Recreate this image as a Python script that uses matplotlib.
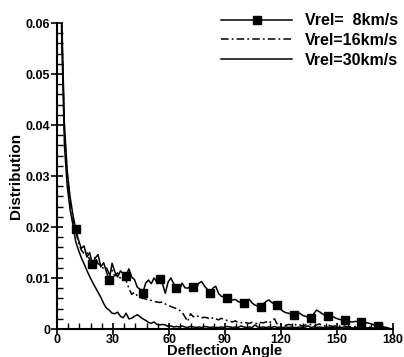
import matplotlib.pyplot as plt
from matplotlib.ticker import MultipleLocator

plt.rcParams['font.family'] = 'Liberation Sans'
plt.rcParams['font.weight'] = 'bold'

### Data: deflection angle grid (deg) and distributions
angle = [1 + 1.5 * k for k in range(119)]

v8 = [0.15, 0.062, 0.040, 0.031, 0.026, 0.0225, 0.0196, 0.0175, 0.0158, 0.0163,
      0.0141, 0.0150, 0.0127, 0.0139, 0.0146, 0.0122, 0.0130, 0.0112, 0.0096, 0.0129,
      0.0112, 0.0102, 0.0114, 0.0108, 0.0104, 0.0118, 0.0102, 0.0097, 0.0082, 0.0078,
      0.0071, 0.0090, 0.0096, 0.0089, 0.0100, 0.0092, 0.0098, 0.0089, 0.0070, 0.0092,
      0.0100, 0.0089, 0.0080, 0.0076, 0.0090, 0.0081, 0.0080, 0.0083, 0.0083, 0.0080,
      0.0090, 0.0093, 0.0084, 0.0078, 0.0071, 0.0080, 0.0084, 0.0070, 0.0064, 0.0063,
      0.0061, 0.0059, 0.0057, 0.0058, 0.0054, 0.0052, 0.0051, 0.0057, 0.0058, 0.0051,
      0.0047, 0.0045, 0.0043, 0.0049, 0.0054, 0.0057, 0.0052, 0.0049, 0.0047, 0.0040,
      0.0035, 0.0032, 0.0031, 0.0029, 0.0027, 0.0029, 0.0031, 0.0027, 0.0025, 0.0023,
      0.0022, 0.0030, 0.0037, 0.0034, 0.0030, 0.0027, 0.0025, 0.0024, 0.0024, 0.0021,
      0.0019, 0.0018, 0.0018, 0.0016, 0.0014, 0.0014, 0.0015, 0.0014, 0.0014, 0.0013,
      0.0012, 0.0011, 0.0009, 0.0007, 0.0006, 0.0005, 0.0004, 0.0003, 0.0001]

v16 = [0.15, 0.060, 0.039, 0.030, 0.025, 0.0218, 0.0192, 0.0170, 0.0155, 0.0148,
       0.0150, 0.0136, 0.0131, 0.0142, 0.0128, 0.0125, 0.0118, 0.0120, 0.0108, 0.0115,
       0.0104, 0.0110, 0.0099, 0.0103, 0.0095, 0.0080, 0.0068, 0.0072, 0.0065, 0.0062,
       0.0060, 0.0059, 0.0057, 0.0056, 0.0054, 0.0053, 0.0052, 0.0053, 0.0049, 0.0047,
       0.0044, 0.0042, 0.0040, 0.0037, 0.0033, 0.0024, 0.0015, 0.0030, 0.0024, 0.0027,
       0.0024, 0.0022, 0.0023, 0.0022, 0.0019, 0.0022, 0.0020, 0.0018, 0.0021, 0.0019,
       0.0017, 0.0015, 0.0014, 0.0016, 0.0013, 0.0012, 0.0014, 0.0012, 0.0011, 0.0013,
       0.0012, 0.0010, 0.0013, 0.0012, 0.0014, 0.0011, 0.0016, 0.0020, 0.0009, 0.0008,
       0.0010, 0.0007, 0.0009, 0.0008, 0.0010, 0.0007, 0.0008, 0.0006, 0.0008, 0.0007,
       0.0009, 0.0006, 0.0008, 0.0010, 0.0007, 0.0006, 0.0008, 0.0006, 0.0005, 0.0007,
       0.0006, 0.0005, 0.0006, 0.0004, 0.0005, 0.0004, 0.0005, 0.0004, 0.0003, 0.0004,
       0.0003, 0.0004, 0.0003, 0.0002, 0.0003, 0.0002, 0.0002, 0.0001, 0.0001]

v30 = [0.15, 0.058, 0.036, 0.028, 0.0235, 0.0205, 0.0172, 0.0155, 0.0140, 0.0128,
       0.0115, 0.0103, 0.0092, 0.0082, 0.0072, 0.0062, 0.0050, 0.0041, 0.0037, 0.0031,
       0.0030, 0.0033, 0.0025, 0.0022, 0.0031, 0.0020, 0.0021, 0.0025, 0.0028, 0.0024,
       0.0020, 0.0017, 0.0013, 0.0011, 0.0014, 0.0009, 0.0008, 0.0009, 0.0008, 0.0005,
       0.0006, 0.0004, 0.0005, 0.0004, 0.0006, 0.0004, 0.0003, 0.0005, 0.0004, 0.0003,
       0.0004, 0.0003, 0.0005, 0.0004, 0.0003, 0.0004, 0.0003, 0.0003, 0.0004, 0.0003,
       0.0005, 0.0004, 0.0003, 0.0004, 0.0003, 0.0006, 0.0004, 0.0003, 0.0004, 0.0003,
       0.0008, 0.0004, 0.0003, 0.0004, 0.0003, 0.0004, 0.0003, 0.0005, 0.0003, 0.0004,
       0.0003, 0.0004, 0.0003, 0.0004, 0.0003, 0.0003, 0.0004, 0.0003, 0.0004, 0.0006,
       0.0003, 0.0004, 0.0003, 0.0004, 0.0003, 0.0003, 0.0004, 0.0003, 0.0003, 0.0004,
       0.0003, 0.0003, 0.0004, 0.0003, 0.0003, 0.0002, 0.0003, 0.0003, 0.0002, 0.0003,
       0.0002, 0.0003, 0.0002, 0.0002, 0.0002, 0.0001, 0.0002, 0.0001, 0.0001]

labels = ['Vrel=  8km/s', 'Vrel=16km/s', 'Vrel=30km/s']

### Create figure
fig = plt.figure(figsize=(4.04, 3.57), dpi=100)
ax = fig.add_axes([0.141, 0.0784, 0.832, 0.857])

ax.plot(angle, v8, color='black', lw=1.1, marker='s', ms=5.5,
        markevery=(6, 6), label=labels[0])
ax.plot(angle, v16, color='black', lw=1.1, dashes=[5, 2, 1.2, 2], label=labels[1])
ax.plot(angle, v30, color='black', lw=1.1, label=labels[2])

ax.set_xlim(0, 180)
ax.set_ylim(0, 0.06)

### Spines and ticks
for s in ['top', 'right']:
    ax.spines[s].set_visible(False)
for s in ['left', 'bottom']:
    ax.spines[s].set_linewidth(1.5)

ax.xaxis.set_major_locator(MultipleLocator(30))
ax.xaxis.set_minor_locator(MultipleLocator(6))
ax.yaxis.set_minor_locator(MultipleLocator(0.002))
ax.tick_params(which='major', direction='inout', length=8, width=1.2,
               labelsize=9, pad=1)
ax.tick_params(axis='x', which='major', pad=-0.5)
ax.tick_params(which='minor', direction='in', length=4, width=1)
ax.set_yticks([0, 0.01, 0.02, 0.03, 0.04, 0.05, 0.06])
ax.set_yticklabels(['0', '0.01', '0.02', '0.03', '0.04', '0.05', '0.06'])

### Labels
ax.set_xlabel('Deflection Angle', fontsize=10.5, fontweight='bold', labelpad=-1.5)
ax.set_ylabel('Distribution', fontsize=11, fontweight='bold', labelpad=2)

### Legend
leg = fig.legend(loc='upper left', bbox_to_anchor=(0.548, 0.963), frameon=False,
                 fontsize=11.5, handlelength=4.45, handletextpad=0.8,
                 labelspacing=0.3, borderpad=0, borderaxespad=0,
                 markerscale=1.1)
for t in leg.get_texts():
    t.set_fontweight('bold')

fig.savefig('out.png', dpi=100)
